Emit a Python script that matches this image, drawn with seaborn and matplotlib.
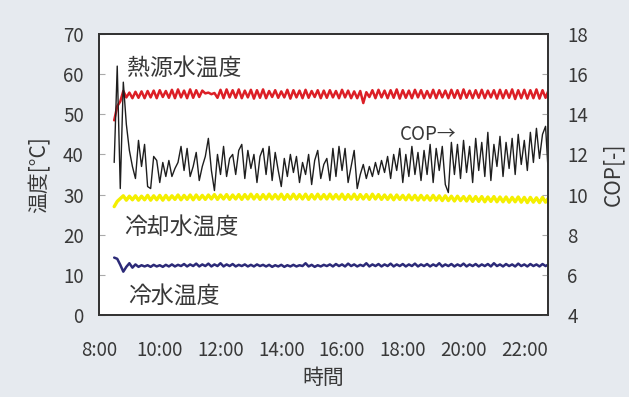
import numpy as np
import pandas as pd
import seaborn as sns
import matplotlib.pyplot as plt

# time axis: samples every 6 minutes from 8:30
start_hour = 8.5
step_hour = 0.1
n_points = 144

# 熱源水温度 [°C]
heat_src = [48.5, 52.0, 53.2, 55.8, 54.2, 55.4, 54.0, 55.6, 54.1, 55.7,
            54.0, 55.8, 54.2, 55.9, 54.0, 56.0, 54.3, 55.8, 54.1, 56.1,
            54.0, 56.2, 54.2, 55.9, 54.0, 56.2, 54.1, 56.0, 54.3, 55.9,
            55.2, 55.4, 55.0, 55.3, 54.1, 56.1, 54.0, 56.2, 54.2, 56.0,
            54.1, 56.2, 54.0, 55.9, 54.2, 56.1, 53.9, 56.0, 54.1, 56.2,
            54.0, 55.8, 54.3, 56.0, 54.1, 55.7, 54.2, 56.1, 53.9, 56.0,
            54.2, 55.9, 54.0, 56.1, 54.1, 55.8, 54.3, 56.0, 54.0, 55.9,
            54.1, 56.0, 54.2, 55.8, 54.0, 56.1, 54.2, 55.9, 54.0, 55.7,
            54.0, 55.8, 52.8, 55.5, 54.3, 56.0, 54.0, 56.1, 54.2, 55.9,
            54.0, 56.0, 54.1, 56.2, 53.9, 56.0, 54.1, 55.9, 54.0, 56.1,
            54.2, 56.0, 54.0, 55.8, 54.1, 56.1, 54.0, 56.0, 54.2, 55.9,
            54.0, 56.1, 54.1, 56.0, 53.9, 56.2, 54.1, 55.9, 54.0, 56.0,
            54.1, 56.1, 54.0, 55.9, 54.2, 56.0, 53.9, 56.1, 54.0, 56.0,
            54.1, 56.2, 53.8, 56.0, 54.0, 56.1, 53.9, 56.0, 54.0, 56.2,
            53.9, 56.0, 54.1, 56.0]

# 冷却水温度 [°C]
cooling = [27.0, 28.3, 29.0, 29.7, 28.6, 29.6, 28.7, 29.7, 28.6, 29.6,
           28.7, 29.8, 28.6, 29.7, 28.7, 29.8, 28.6, 29.8, 28.7, 29.7,
           28.8, 29.9, 28.7, 29.8, 28.8, 29.9, 28.7, 29.9, 28.8, 29.8,
           28.8, 29.9, 28.9, 30.0, 28.8, 29.9, 28.9, 30.0, 28.8, 29.9,
           28.9, 30.0, 28.8, 30.0, 28.9, 30.1, 28.9, 30.0, 28.8, 30.0,
           28.9, 30.1, 28.9, 30.0, 28.9, 30.1, 28.8, 30.0, 28.9, 30.1,
           28.9, 30.0, 28.9, 30.1, 28.8, 30.0, 28.9, 30.1, 28.9, 30.0,
           28.9, 30.1, 28.9, 30.0, 28.9, 30.1, 28.8, 30.0, 28.9, 30.1,
           28.8, 30.0, 28.9, 30.0, 28.8, 30.1, 28.9, 30.0, 28.8, 29.9,
           28.8, 29.9, 28.7, 29.9, 28.8, 29.8, 28.7, 29.9, 28.7, 29.8,
           28.6, 29.8, 28.7, 29.7, 28.6, 29.8, 28.6, 29.7, 28.5, 29.7,
           28.5, 29.6, 28.4, 29.6, 28.5, 29.5, 28.4, 29.6, 28.3, 29.5,
           28.3, 29.5, 28.2, 29.4, 28.3, 29.5, 28.2, 29.4, 28.2, 29.4,
           28.1, 29.3, 28.2, 29.4, 28.1, 29.3, 28.0, 29.3, 28.1, 29.2,
           28.0, 29.3, 28.1, 29.2]

# 冷水温度 [°C]
chilled = [14.3, 14.0, 12.5, 10.8, 12.0, 12.9, 11.8, 12.6, 12.0, 12.4,
           12.1, 12.4, 12.0, 12.5, 12.1, 12.4, 12.0, 12.5, 12.1, 12.6,
           12.1, 12.5, 12.2, 12.7, 12.1, 12.6, 12.2, 12.8, 12.1, 12.6,
           12.2, 12.8, 12.1, 12.6, 12.2, 12.9, 12.1, 12.6, 12.2, 12.7,
           12.1, 12.5, 12.2, 12.6, 12.1, 12.5, 12.1, 12.6, 12.2, 12.5,
           12.1, 12.5, 12.0, 12.4, 12.1, 12.5, 12.0, 12.4, 12.1, 12.5,
           12.1, 12.4, 12.2, 12.9, 12.1, 12.5, 12.0, 12.4, 12.1, 12.5,
           12.2, 12.6, 12.1, 12.7, 12.2, 12.6, 12.1, 12.8, 12.2, 12.6,
           12.1, 12.5, 12.2, 12.9, 12.1, 12.6, 12.2, 12.7, 12.1, 12.6,
           12.2, 12.8, 12.1, 12.6, 12.2, 12.7, 12.1, 12.6, 12.2, 12.8,
           12.1, 12.6, 12.2, 12.7, 12.1, 12.6, 12.2, 12.9, 12.1, 12.6,
           12.2, 12.7, 12.1, 12.6, 12.2, 12.8, 12.1, 12.6, 12.2, 12.7,
           12.1, 12.6, 12.2, 12.7, 12.1, 12.9, 12.2, 12.6, 12.1, 12.7,
           12.2, 12.6, 12.1, 12.8, 12.2, 12.6, 12.1, 12.7, 12.2, 12.6,
           12.1, 12.7, 12.2, 12.6]

# COP [-]
cop = [11.6, 16.4, 10.3, 15.6, 13.5, 12.2, 11.4, 10.8, 12.7, 11.4,
       12.5, 10.4, 10.3, 11.9, 11.7, 10.6, 11.6, 10.9, 11.7, 10.9,
       11.3, 11.6, 12.4, 11.2, 12.3, 10.9, 11.4, 12.1, 10.7, 11.4,
       11.9, 12.8, 11.2, 10.2, 12.0, 11.0, 12.4, 10.9, 11.8, 12.0,
       11.0, 12.2, 12.5, 10.8, 12.2, 11.3, 12.0, 10.6, 11.9, 12.3,
       11.0, 12.4, 10.7, 12.1, 11.2, 10.4, 11.8, 10.9, 12.0, 11.1,
       11.9, 10.6, 11.6, 11.0, 12.0, 10.5, 11.7, 12.2, 10.8, 11.5,
       11.8, 10.7, 12.3, 10.9, 12.4, 11.2, 12.3, 10.6, 11.4, 12.2,
       10.3, 11.0, 11.5, 10.8, 11.4, 10.9, 11.6, 11.0, 11.7, 11.1,
       11.9, 10.8, 12.0, 11.2, 12.3, 10.6, 12.0, 10.9, 12.4, 11.0,
       12.1, 10.7, 12.2, 11.0, 12.5, 10.6, 12.3, 11.2, 12.4, 10.5,
       10.1, 12.6, 11.0, 12.5, 10.8, 12.7, 11.1, 12.4, 10.6, 12.8,
       11.2, 12.6, 10.9, 13.1, 10.7, 12.5, 11.4, 12.9, 10.9, 12.6,
       11.3, 12.8, 11.0, 13.0, 11.5, 12.7, 11.2, 13.1, 11.6, 13.3,
       11.8, 13.0, 13.4, 10.8]

tick_hours = [8, 10, 12, 14, 16, 18, 20, 22]
tick_labels = ['8:00', '10:00', '12:00', '14:00', '16:00', '18:00', '20:00', '22:00']

hours = start_hour + step_hour * np.arange(n_points)
df = pd.DataFrame({'hour': hours, 'heat_src': heat_src, 'cooling': cooling,
                   'chilled': chilled, 'cop': cop})

sns.set_theme(style='white')
plt.rcParams['font.family'] = ['Noto Sans CJK JP', 'DejaVu Sans']

fig = plt.figure(figsize=(6.29, 3.97), dpi=100, facecolor='#e6eaef')
ax = fig.add_axes([0.1574, 0.2065, 0.7138, 0.7079])
ax.set_facecolor('white')

sns.lineplot(data=df, x='hour', y='heat_src', ax=ax, color='#dc1f26', linewidth=1.8)
sns.lineplot(data=df, x='hour', y='cooling', ax=ax, color='#f4ef00', linewidth=2.4)
sns.lineplot(data=df, x='hour', y='chilled', ax=ax, color='#2c2a78', linewidth=1.8)

ax2 = ax.twinx()
sns.lineplot(data=df, x='hour', y='cop', ax=ax2, color='#1e1e1e', linewidth=1.0)

ax.set_xlim(8, 22.78)
ax.set_ylim(0, 70)
ax.set_yticks(range(0, 71, 10))
ax2.set_ylim(4, 18)
ax2.set_yticks(range(4, 19, 2))
ax.set_xticks(tick_hours)
ax.set_xticklabels(tick_labels)

txt_col = '#383838'
ax.tick_params(axis='both', direction='in', length=4, width=0.8, color='#aaaaaa',
               labelsize=13.5, labelcolor=txt_col)
ax.tick_params(axis='y', pad=11)
ax.tick_params(axis='x', pad=18)
ax2.tick_params(axis='y', direction='in', length=4, width=0.8, color='#aaaaaa',
                labelsize=13.5, labelcolor=txt_col, pad=14)

ax.set_xlabel('時間', fontsize=15, color=txt_col, labelpad=4)
ax.set_ylabel('温度[°C]', fontsize=15, color=txt_col, labelpad=9)
ax2.set_ylabel('COP[-]', fontsize=15, color=txt_col, labelpad=10)

for a in (ax, ax2):
    for s in a.spines.values():
        s.set_color('#333333')
        s.set_linewidth(1.3)

ax.text(8.92, 61.5, '熱源水温度', fontsize=16.5, color=txt_col, va='center', ha='left')
ax.text(8.82, 21.9, '冷却水温度', fontsize=16.5, color=txt_col, va='center', ha='left')
ax.text(8.95, 4.7, '冷水温度', fontsize=16.5, color=txt_col, va='center', ha='left')
ax2.text(17.92, 12.97, 'COP→', fontsize=13.5, color=txt_col, va='center', ha='left')

fig.savefig('out.png', dpi=100, facecolor=fig.get_facecolor())
